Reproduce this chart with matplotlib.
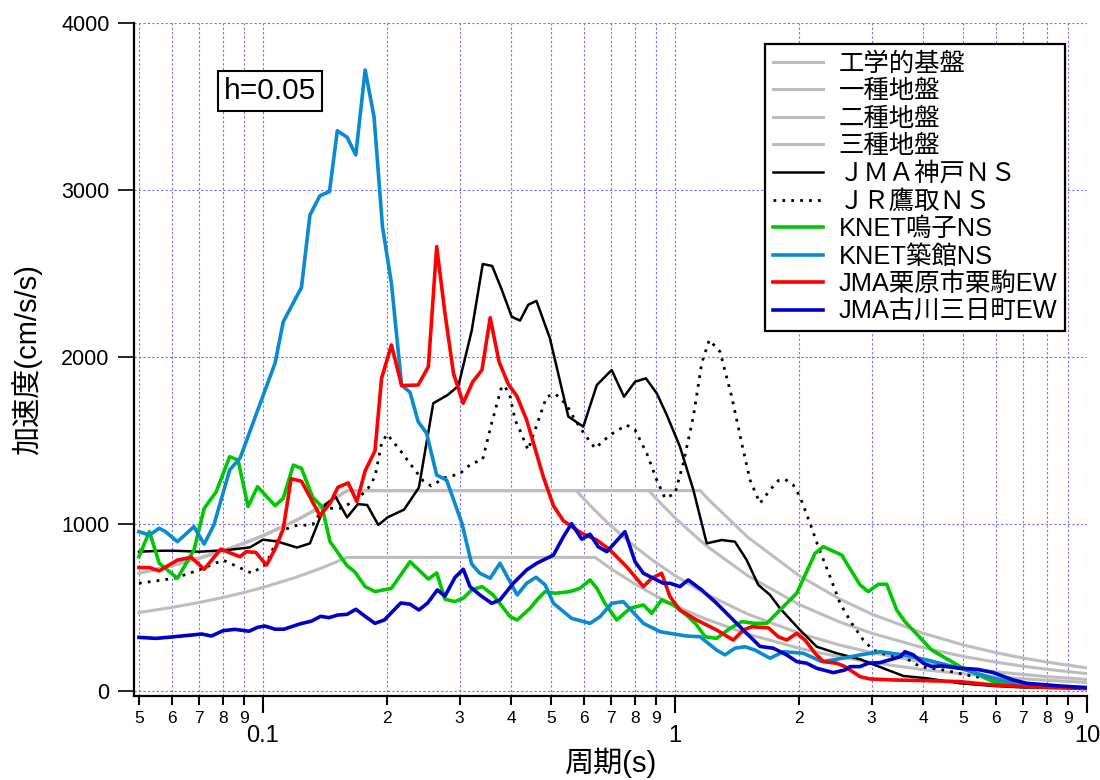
import matplotlib
matplotlib.use('Agg')
import matplotlib.pyplot as plt
from matplotlib import ticker

plt.rcParams['font.family'] = ['Liberation Sans', 'Noto Sans CJK JP']

# design spectra (gray)
design_periods = [0.05, 0.06, 0.07, 0.08, 0.09, 0.10, 0.12, 0.14, 0.16, 0.576, 0.60, 0.64,
                  0.70, 0.80, 0.864, 0.90, 1.0, 1.152, 1.2, 1.5, 2.0, 2.5, 3.0, 4.0, 5.0,
                  6.0, 7.0, 8.0, 10.0]
bedrock = [470, 500, 530, 560, 590, 620, 680, 740, 800, 800, 800, 800,
           731, 640, 593, 569, 512, 444, 427, 341, 256, 205, 171, 128, 102,
           85, 73, 64, 51]
ground1 = [705, 750, 795, 840, 885, 930, 1020, 1110, 1200, 1200, 1152, 1080,
           987, 864, 800, 768, 691, 600, 576, 461, 346, 276, 230, 173, 138,
           115, 99, 86, 69]
ground2 = [705, 750, 795, 840, 885, 930, 1020, 1110, 1200, 1200, 1200, 1200,
           1200, 1200, 1200, 1152, 1037, 900, 864, 691, 518, 415, 346, 259, 207,
           173, 148, 130, 104]
ground3 = [705, 750, 795, 840, 885, 930, 1020, 1110, 1200, 1200, 1200, 1200,
           1200, 1200, 1200, 1200, 1200, 1200, 1152, 922, 691, 553, 461, 346, 276,
           230, 197, 173, 138]

# JMA神戸NS
kobe_t = [0.050, 0.057, 0.061, 0.070, 0.082, 0.093, 0.100, 0.108, 0.121, 0.130, 0.1415,
          0.150, 0.160, 0.170, 0.179, 0.1905, 0.201, 0.220, 0.239, 0.259, 0.2805, 0.298,
          0.321, 0.3415, 0.360, 0.380, 0.4015, 0.4205, 0.4405, 0.461, 0.497, 0.551, 0.599,
          0.646, 0.702, 0.752, 0.800, 0.850, 0.903, 0.955, 1.028, 1.108, 1.194, 1.298,
          1.398, 1.493, 1.593, 1.701, 1.798, 2.011, 2.208, 2.469, 2.812, 3.203, 3.583,
          4.083, 4.918, 5.925, 7.139, 10.0]
kobe_v = [834, 840, 840, 834, 844, 860, 906, 896, 859, 884, 1115,
          1163, 1040, 1119, 1114, 994, 1041, 1086, 1218, 1723, 1772, 1827,
          2157, 2557, 2545, 2401, 2241, 2218, 2313, 2336, 2112, 1643, 1583,
          1832, 1922, 1762, 1852, 1872, 1783, 1653, 1463, 1204, 884, 904,
          894, 784, 635, 575, 495, 365, 265, 226, 190, 136, 90,
          76, 46, 30, 20, 16]

# JR鷹取NS
takatori_t = [0.050, 0.061, 0.070, 0.080, 0.094, 0.1017, 0.108, 0.112, 0.120, 0.132, 0.140,
              0.154, 0.166, 0.179, 0.187, 0.194, 0.200, 0.215, 0.232, 0.2449, 0.256, 0.2765,
              0.300, 0.321, 0.341, 0.358, 0.380, 0.387, 0.398, 0.409, 0.420, 0.440, 0.466,
              0.488, 0.512, 0.546, 0.572, 0.605, 0.640, 0.6955, 0.763, 0.800, 0.854, 0.903,
              0.946, 1.000, 1.047, 1.108, 1.161, 1.211, 1.286, 1.373, 1.452, 1.521, 1.608,
              1.701, 1.781, 1.849, 1.937, 2.011, 2.127, 2.227, 2.378, 2.515, 2.685, 2.865,
              3.029, 3.265, 3.583, 3.933, 4.479, 5.105, 5.925, 7.139, 10.0]
takatori_v = [645, 675, 725, 784, 705, 760, 900, 964, 990, 996, 1094,
              1094, 1134, 1204, 1283, 1483, 1538, 1443, 1333, 1258, 1228, 1278,
              1300, 1363, 1383, 1593, 1827, 1822, 1762, 1623, 1563, 1443, 1620,
              1762, 1780, 1713, 1623, 1533, 1453, 1533, 1593, 1563, 1423, 1263,
              1154, 1183, 1363, 1643, 1962, 2102, 2032, 1762, 1483, 1263, 1124,
              1204, 1260, 1268, 1233, 1163, 1004, 864, 685, 525, 405, 305,
              245, 216, 205, 146, 126, 96, 66, 36, 16]

# KNET鳴子NS
naruko_t = [0.050, 0.053, 0.056, 0.062, 0.068, 0.072, 0.077, 0.083, 0.087, 0.092, 0.097,
            0.107, 0.112, 0.1185, 0.124, 0.132, 0.139, 0.1455, 0.160, 0.167, 0.177, 0.187,
            0.205, 0.2275, 0.252, 0.264, 0.2765, 0.292, 0.306, 0.321, 0.340, 0.362, 0.398,
            0.414, 0.445, 0.462, 0.484, 0.512, 0.556, 0.588, 0.622, 0.646, 0.676, 0.722,
            0.778, 0.838, 0.878, 0.928, 0.991, 1.077, 1.129, 1.183, 1.262, 1.360, 1.452,
            1.564, 1.670, 1.798, 1.974, 2.187, 2.291, 2.539, 2.812, 2.945, 3.114, 3.265,
            3.452, 3.616, 4.199, 4.918, 5.925, 7.139, 10.0]
naruko_v = [804, 954, 765, 675, 844, 1094, 1193, 1403, 1383, 1104, 1223,
            1110, 1154, 1353, 1333, 1160, 1104, 894, 750, 714, 625, 595,
            615, 774, 670, 707, 550, 535, 555, 605, 625, 575, 445,
            425, 495, 545, 595, 585, 595, 615, 665, 615, 525, 425,
            495, 515, 465, 545, 515, 445, 395, 325, 315, 375, 415,
            405, 405, 485, 585, 824, 864, 814, 635, 595, 639, 639,
            485, 415, 245, 146, 56, 26, 20]

# KNET築館NS
tsukidate_t = [0.050, 0.053, 0.056, 0.058, 0.062, 0.068, 0.072, 0.076, 0.083, 0.088, 0.107,
               0.112, 0.124, 0.130, 0.1375, 0.145, 0.1515, 0.160, 0.168, 0.177, 0.186, 0.195,
               0.205, 0.217, 0.2275, 0.238, 0.2496, 0.264, 0.279, 0.304, 0.321, 0.336, 0.356,
               0.376, 0.414, 0.4365, 0.460, 0.484, 0.507, 0.561, 0.622, 0.658, 0.702, 0.749,
               0.838, 0.920, 0.9725, 1.068, 1.150, 1.262, 1.322, 1.398, 1.479, 1.564, 1.701,
               1.832, 2.048, 2.270, 2.423, 2.812, 3.146, 3.583, 4.083, 4.918, 5.925, 7.139, 10.0]
tsukidate_v = [954, 934, 974, 954, 894, 984, 880, 994, 1323, 1395, 1964,
               2211, 2417, 2850, 2966, 2990, 3355, 3316, 3210, 3719, 3439, 2780,
               2441, 1832, 1788, 1613, 1543, 1293, 1263, 1004, 760, 705, 675,
               765, 575, 645, 681, 635, 525, 435, 405, 445, 525, 535,
               405, 355, 345, 329, 325, 245, 216, 256, 265, 245, 196,
               235, 226, 176, 186, 216, 235, 216, 186, 136, 76, 36, 16]

# JMA栗原市栗駒EW
kurikoma_t = [0.050, 0.053, 0.056, 0.062, 0.067, 0.072, 0.079, 0.083, 0.088, 0.091, 0.096,
              0.102, 0.107, 0.112, 0.117, 0.124, 0.1375, 0.1455, 0.152, 0.161, 0.169, 0.177,
              0.187, 0.194, 0.205, 0.217, 0.238, 0.252, 0.264, 0.2765, 0.290, 0.306, 0.323,
              0.340, 0.356, 0.374, 0.394, 0.413, 0.4365, 0.479, 0.507, 0.536, 0.594, 0.646,
              0.6955, 0.763, 0.838, 0.878, 0.928, 0.9725, 1.028, 1.129, 1.262, 1.385, 1.465,
              1.535, 1.685, 1.781, 1.867, 1.974, 2.068, 2.187, 2.291, 2.469, 2.586, 2.812,
              2.973, 3.388, 4.083, 4.918, 5.925, 7.139, 10.0]
kurikoma_v = [739, 739, 719, 784, 800, 729, 850, 828, 804, 834, 830,
              754, 850, 970, 1271, 1256, 1050, 1124, 1220, 1246, 1134, 1318,
              1438, 1872, 2072, 1829, 1832, 1942, 2661, 2262, 1902, 1723, 1852,
              1922, 2235, 1972, 1837, 1767, 1623, 1283, 1109, 1019, 944, 904,
              844, 744, 625, 675, 705, 565, 485, 425, 365, 305, 365,
              385, 378, 325, 305, 345, 305, 226, 176, 166, 146, 86,
              72, 66, 62, 56, 36, 26, 14]

# JMA古川三日町EW
furukawa_t = [0.050, 0.055, 0.061, 0.071, 0.075, 0.080, 0.0855, 0.0925, 0.097, 0.101, 0.107,
              0.1125, 0.123, 0.131, 0.138, 0.1446, 0.152, 0.160, 0.168, 0.177, 0.187, 0.197,
              0.216, 0.2275, 0.239, 0.251, 0.265, 0.2765, 0.2924, 0.3063, 0.318, 0.336, 0.359,
              0.376, 0.405, 0.4365, 0.462, 0.507, 0.536, 0.561, 0.594, 0.622, 0.651, 0.683,
              0.756, 0.800, 0.838, 0.886, 0.937, 0.9725, 1.028, 1.077, 1.161, 1.262, 1.385,
              1.493, 1.608, 1.732, 1.867, 1.974, 2.088, 2.208, 2.423, 2.586, 2.660, 2.812,
              2.945, 3.146, 3.357, 3.517, 3.616, 3.787, 4.006, 4.199, 4.440, 4.918, 5.399,
              5.925, 6.624, 7.139, 8.601, 10.0]
furukawa_v = [321, 315, 325, 341, 329, 361, 369, 358, 381, 389, 370,
              370, 402, 418, 447, 439, 455, 459, 489, 447, 405, 425,
              527, 520, 485, 527, 605, 568, 680, 729, 625, 575, 525,
              545, 645, 725, 765, 814, 924, 1002, 909, 939, 864, 834,
              954, 774, 705, 675, 645, 645, 625, 665, 605, 525, 425,
              345, 267, 256, 216, 176, 166, 136, 110, 126, 146, 146,
              166, 170, 190, 205, 235, 216, 166, 146, 150, 136, 130,
              110, 66, 46, 30, 20]

major_ticks = [0.1, 1, 10]
major_labels = ['0.1', '1', '10']
minor_ticks = [0.05, 0.06, 0.07, 0.08, 0.09, 0.2, 0.3, 0.4, 0.5, 0.6, 0.7, 0.8, 0.9,
               2, 3, 4, 5, 6, 7, 8, 9]
minor_labels = ['5', '6', '7', '8', '9', '2', '3', '4', '5', '6', '7', '8', '9',
                '2', '3', '4', '5', '6', '7', '8', '9']

fig = plt.figure(figsize=(11, 7.8), dpi=100)
ax = fig.add_axes([0.1218, 0.1077, 0.8664, 0.8628])

gray = '#bdbdbd'
ax.plot(design_periods, bedrock, color=gray, lw=2.2, label='工学的基盤')
ax.plot(design_periods, ground1, color=gray, lw=2.2, label='一種地盤')
ax.plot(design_periods, ground2, color=gray, lw=2.2, label='二種地盤')
ax.plot(design_periods, ground3, color=gray, lw=2.2, label='三種地盤')
ax.plot(kobe_t, kobe_v, color='black', lw=1.8, label='ＪＭＡ神戸ＮＳ')
ax.plot(takatori_t, takatori_v, color='black', lw=2.0, linestyle=(0, (1, 2.2)), label='ＪＲ鷹取ＮＳ')
ax.plot(naruko_t, naruko_v, color='#00c800', lw=2.6, label='KNET鳴子NS')
ax.plot(tsukidate_t, tsukidate_v, color='#0a8ad0', lw=2.6, label='KNET築館NS')
ax.plot(kurikoma_t, kurikoma_v, color='#ff0000', lw=2.6, label='JMA栗原市栗駒EW')
ax.plot(furukawa_t, furukawa_v, color='#0000c8', lw=2.6, label='JMA古川三日町EW')

ax.set_xscale('log')
ax.set_xlim(0.04863, 10)
ax.set_ylim(-30, 4000)

ax.xaxis.set_major_locator(ticker.FixedLocator(major_ticks))
ax.xaxis.set_major_formatter(ticker.FixedFormatter(major_labels))
ax.xaxis.set_minor_locator(ticker.FixedLocator(minor_ticks))
ax.xaxis.set_minor_formatter(ticker.FixedFormatter(minor_labels))
ax.set_yticks([0, 1000, 2000, 3000, 4000])

ax.tick_params(axis='x', which='major', direction='out', length=12, width=1.5,
               labelsize=17, pad=9)
ax.tick_params(axis='x', which='minor', direction='out', length=6.5, width=1.5,
               labelsize=12.5, pad=4)
ax.tick_params(axis='y', which='major', direction='out', length=11.5, width=1.2,
               labelsize=15.5, pad=6)

ax.grid(True, which='both', axis='x', color='#7070ff', lw=0.8, linestyle=(0, (2, 2)))
ax.grid(True, which='major', axis='y', color='#7070ff', lw=0.8, linestyle=(0, (2, 2)))
ax.set_axisbelow(True)

for side in ['top', 'right']:
    ax.spines[side].set_visible(False)
for side in ['left', 'bottom']:
    ax.spines[side].set_linewidth(1.6)

ax.set_xlabel('周期(s)', fontsize=21, labelpad=0)
ax.set_ylabel('加速度(cm/s/s)', fontsize=21, labelpad=14)

ax.text(0.1427, 0.899, 'h=0.05', transform=ax.transAxes, fontsize=21.5,
        ha='center', va='center',
        bbox=dict(boxstyle='square,pad=0.2', facecolor='white', edgecolor='black', lw=1.5))

leg = ax.legend(loc='upper left', bbox_to_anchor=(0.6621, 0.9688), borderaxespad=0,
                fontsize=18.3, frameon=True, fancybox=False, edgecolor='black',
                handlelength=2.0, handletextpad=0.6, labelspacing=0.14, borderpad=0.3)
leg.get_frame().set_linewidth(1.6)
leg.get_frame().set_alpha(1)

plt.savefig('out.png', dpi=100)
